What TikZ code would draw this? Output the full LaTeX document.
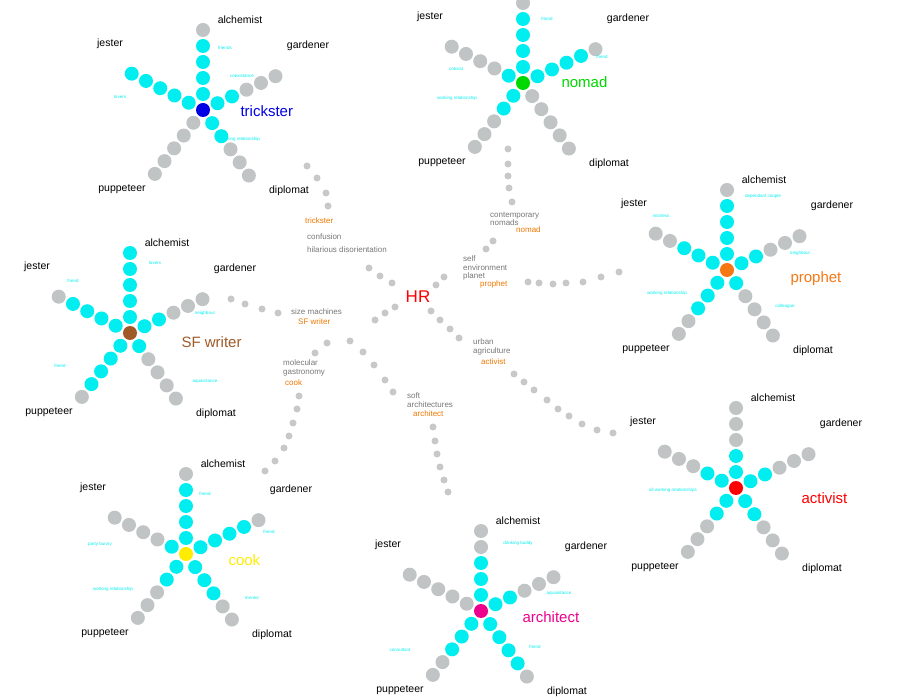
\documentclass[tikz,border=0pt]{standalone}
\usepackage{fontspec}
\setsansfont{Liberation Sans}
\definecolor{dotcyan}{RGB}{0,238,240}
\definecolor{dotgrey}{RGB}{192,196,196}
\definecolor{linkgrey}{RGB}{200,200,200}
\definecolor{txtgrey}{RGB}{120,120,120}
\definecolor{txtorange}{RGB}{240,120,0}
\definecolor{rolebrown}{RGB}{160,90,40}
\definecolor{roleorange}{RGB}{245,120,20}
\tikzset{
  armname/.style={font=\sffamily\fontsize{10.5}{11}\selectfont,text=black},
  rolename/.style={anchor=west,font=\sffamily\fontsize{15}{16}\selectfont},
  tie/.style={font=\sffamily\fontsize{4.5}{5}\selectfont,text=dotcyan},
  theme/.style={anchor=west,font=\sffamily\fontsize{8}{8.5}\selectfont,text=txtgrey,inner sep=0pt},
  pick/.style={anchor=west,font=\sffamily\fontsize{8}{8.5}\selectfont,text=txtorange,inner sep=0pt}
}
% #1 name, #2 centre, #3 colour, #4 role offset, #5 role text, #6-#9 cyan dots per arm
\newcommand{\relstar}[9]{%
  \begin{scope}[shift={#2}]
    \foreach \ang/\nc in {-90/#6,-25/#7,55/#8,127/#9,-153/\jestcount}{
      \foreach \k in {1,...,5}{
        \ifnum\k>\nc \fill[dotgrey] (\ang:16*\k) circle[radius=7];
        \else \fill[dotcyan] (\ang:16*\k) circle[radius=7]; \fi
      }
    }
    \fill[#3] (0,0) circle[radius=7];
    \node[armname] (#1-alch) at (37,-90) {\alchtext};
    \node[armname] (#1-gard) at (105,-64) {gardener};
    \node[armname] (#1-dipl) at (86,81) {diplomat};
    \node[armname] (#1-pupp) at (-81,79) {puppeteer};
    \node[armname] (#1-jest) at (-93,-66) {jester};
    \node[rolename,text=#3] (#1-role) at #4 {#5};
  \end{scope}}
\begin{document}
\begin{tikzpicture}[x=1pt,y=-1pt]
  \clip (0,0) rectangle (900,700);
  \fill[white] (0,0) rectangle (900,700);

  % links from HR
  \foreach \p in {(307,166),(317,178),(326,193),(328,206),(369,268),(380,276),(392,283),
      (508,149),(508,164),(508,176),(509,188),(512,202),(493,241),(486,249),(444,277),(436,285),
      (528,282),(539,283),(553,284),(566,283),(583,282),(601,277),(619,272),
      (231,299),(245,304),(262,309),(278,313),(375,320),(385,313),(395,307),
      (327,343),(315,353),(299,396),(297,409),(293,423),(289,436),(284,448),(265,471),(275,461),
      (350,341),(363,352),(374,365),(385,380),(393,392),(433,427),(435,441),(437,454),(440,467),(444,480),(448,492),
      (431,311),(440,320),(450,329),(459,338),(514,374),(524,382),(534,390),(547,400),(558,409),(569,416),(582,424),(597,430),(613,433)}
    \fill[linkgrey] \p circle[radius=3.5];

  \node[font=\sffamily\fontsize{17}{18}\selectfont,text=red] (hr) at (418,297) {HR};

  % themes
  \node[pick] (t-trick) at (305,221) {trickster};
  \node[theme] (t-conf) at (307,237) {confusion};
  \node[theme] (t-hil) at (307,250) {hilarious disorientation};
  \node[theme,align=left] (t-nom) at (490,219) {contemporary\\nomads};
  \node[pick] (t-nomad) at (516,230) {nomad};
  \node[theme,align=left] (t-env) at (463,268) {self\\environment\\planet};
  \node[pick] (t-proph) at (480,284) {prophet};
  \node[theme] (t-size) at (291,312) {size machines};
  \node[pick] (t-sf) at (298,322) {SF writer};
  \node[theme,align=left] (t-mol) at (283,368) {molecular\\gastronomy};
  \node[pick] (t-cook) at (285,383) {cook};
  \node[theme,align=left] (t-soft) at (407,400) {soft\\architectures};
  \node[pick] (t-arch) at (413,414) {architect};
  \node[theme,align=left] (t-urb) at (473,347) {urban\\agriculture};
  \node[pick] (t-act) at (481,362) {activist};

  % stars
  \def\alchtext{alchemist}
  \def\jestcount{5}\relstar{trick}{(203,110)}{blue!90!black}{(34,1)}{trickster}{4}{2}{2}{0}
  \def\jestcount{3}\relstar{proph}{(727,270)}{roleorange}{(60,9)}{prophet}{4}{2}{1}{3}
  \def\jestcount{4}\relstar{sf}{(130,333)}{rolebrown}{(48,9)}{SF writer}{5}{2}{1}{4}
  \def\jestcount{2}\relstar{act}{(736,488)}{red}{(62,10)}{activist}{2}{2}{2}{2}
  \def\jestcount{1}\relstar{cook}{(186,554)}{yellow!95!orange}{(39,6)}{cook}{4}{4}{3}{2}
  \def\jestcount{0}\relstar{arch}{(481,611)}{magenta}{(38,6)}{architect}{3}{2}{4}{3}
  \def\alchtext{}
  \def\jestcount{1}\relstar{nomad}{(523,83)}{green!85!black}{(35,-1)}{nomad}{4}{4}{0}{2}

  % ties
  \node[tie] (trick-t1) at (225,48) {friends};
  \node[tie] (trick-t2) at (242,76) {coexistance};
  \node[tie] (trick-t3) at (120,97) {lovers};
  \node[tie] (trick-t4) at (240,139) {working relationship};
  \node[tie] (nomad-t1) at (547,19) {friend};
  \node[tie] (nomad-t2) at (602,57) {friend};
  \node[tie] (nomad-t3) at (456,69) {coexist};
  \node[tie] (nomad-t4) at (457,98) {working relationship};
  \node[tie] (proph-t1) at (763,196) {dependant couple};
  \node[tie] (proph-t2) at (661,216) {mistress};
  \node[tie] (proph-t3) at (800,253) {neighbour};
  \node[tie] (proph-t4) at (667,293) {working relationship};
  \node[tie] (proph-t5) at (785,306) {colleague};
  \node[tie] (sf-t1) at (155,263) {lovers};
  \node[tie] (sf-t2) at (73,281) {friend};
  \node[tie] (sf-t3) at (205,313) {neighbour};
  \node[tie] (sf-t4) at (60,366) {friend};
  \node[tie] (sf-t5) at (205,381) {aquaintance};
  \node[tie] (act-t1) at (673,490) {all working relationships};
  \node[tie] (cook-t1) at (205,494) {friend};
  \node[tie] (cook-t2) at (269,532) {friend};
  \node[tie] (cook-t3) at (100,544) {party bunny};
  \node[tie] (cook-t4) at (113,589) {working relationship};
  \node[tie] (cook-t5) at (252,598) {mentor};
  \node[tie] (arch-t1) at (518,543) {drinking buddy};
  \node[tie] (arch-t2) at (559,593) {aquaintance};
  \node[tie] (arch-t3) at (535,647) {friend};
  \node[tie] (arch-t4) at (400,650) {consultant};
\end{tikzpicture}
\end{document}
